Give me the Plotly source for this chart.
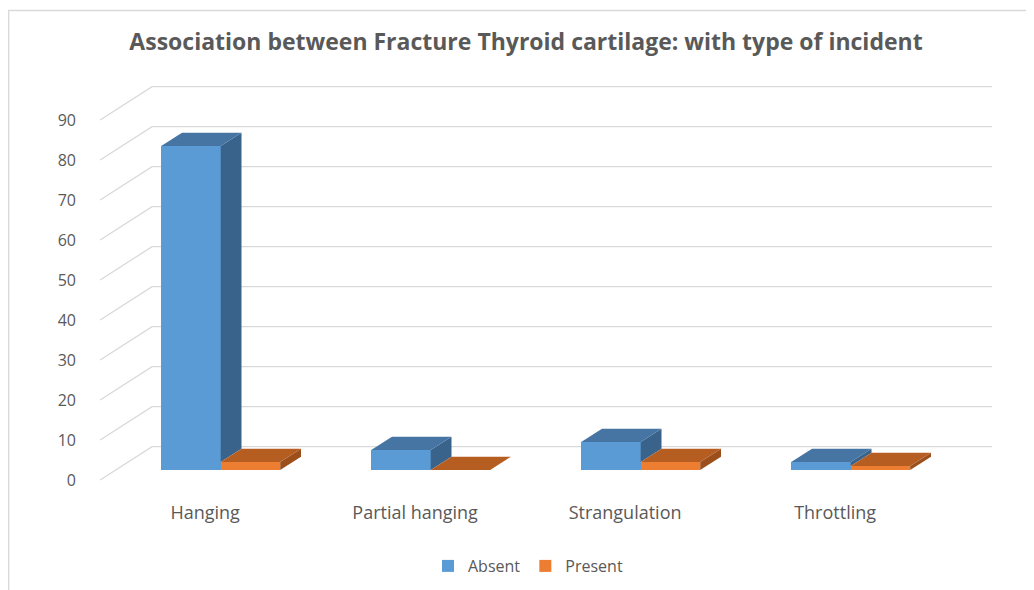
import plotly.graph_objects as go

# ---- data ----
categories = ["Hanging", "Partial hanging", "Strangulation", "Throttling"]
absent = [81, 5, 7, 2]
present = [2, 0, 2, 1]
series_names = ["Absent", "Present"]
y_ticks = [0, 10, 20, 30, 40, 50, 60, 70, 80, 90]

# ---- styling / pseudo-3D geometry (axis units) ----
front_cols = ["#5B9BD5", "#ED7D31"]
top_cols = ["#4674A3", "#B65E21"]
side_cols = ["#3A638B", "#9C4F1B"]
grid_col = "#D9D9D9"
text_col = "#595959"
FONT = "Open Sans"

W = 0.2833            # bar width (category units)
DX, DY = 0.2476, 8.33  # full floor depth vector (x units, value units)
D0, BD = 0.30, 0.40    # bar depth start and bar depth thickness (fractions)

# page has 8px body margin -> figure is 1026x582 placed at (8,8)
FW, FH = 1026, 582
L = 77                 # left margin (px)
PB = 489               # plot-area bottom (px from top)
Y0 = 472               # pixel of value 0 on the front plane
X0 = 197.1             # pixel of first category on the front plane
UX = 210               # px per category
UY = 4                 # px per value unit

fig = go.Figure()
series = [absent, present]
n = len(categories)

for s, vals in enumerate(series):
    xs, bases = [], []
    for i, v in enumerate(vals):
        xl = i - W + s * W + D0 * DX
        xs.append(xl + W / 2)
        bases.append(D0 * DY)
    fig.add_trace(go.Bar(
        x=xs, y=vals, base=bases, width=[W] * n, name=series_names[s],
        marker=dict(color=front_cols[s], line=dict(width=0)),
        hoverinfo="skip", showlegend=True))

for i in range(n):
    for s, vals in enumerate(series):
        v = vals[i]
        xl = i - W + s * W + D0 * DX
        xr = xl + W
        yb = D0 * DY
        yt = yb + v
        nxt = series[s + 1][i] if s + 1 < len(series) else 0
        ylow = yb + nxt
        # side face
        fig.add_trace(go.Scatter(
            x=[xr, xr, xr + BD * DX, xr + BD * DX, xr],
            y=[ylow, yt, yt + BD * DY, ylow + BD * DY, ylow],
            mode="lines", fill="toself", fillcolor=side_cols[s],
            line=dict(width=0, color=side_cols[s]),
            hoverinfo="skip", showlegend=False))
        # top face
        fig.add_trace(go.Scatter(
            x=[xl, xr, xr + BD * DX, xl + BD * DX, xl],
            y=[yt, yt, yt + BD * DY, yt + BD * DY, yt],
            mode="lines", fill="toself", fillcolor=top_cols[s],
            line=dict(width=0, color=top_cols[s]),
            hoverinfo="skip", showlegend=False))

# gridlines on side + back wall (from tick values)
shapes = []
x_front_l = -0.5
x_front_r = n - 0.5
for t in y_ticks:
    path = (f"M {x_front_l},{t} L {x_front_l + DX},{t + DY} "
            f"L {x_front_r + DX},{t + DY}")
    shapes.append(dict(type="path", xref="x", yref="y", path=path,
                       line=dict(color=grid_col, width=1.3), layer="below"))

# chart border (left + top)
pw = FW - L
bx = (0.7 - L) / pw
by = (PB - 2.5) / PB
shapes.append(dict(type="path", xref="paper", yref="paper",
                   path=f"M {bx},-0.3 L {bx},{by} L 1.01,{by}",
                   line=dict(color=grid_col, width=1.3), layer="below"))

fig.update_layout(
    width=FW, height=FH,
    margin=dict(l=L, r=0, t=0, b=FH - PB),
    paper_bgcolor="white", plot_bgcolor="white",
    font=dict(family=FONT, color=text_col, size=16),
    title=dict(text="Association between Fracture Thyroid cartilage: with type of incident",
               x=518 / FW, xref="container", xanchor="center",
               y=1 - 34 / FH, yref="container", yanchor="middle",
               font=dict(family=FONT, size=23, color=text_col, weight="bold")),
    showlegend=True,
    legend=dict(orientation="h", xref="container", yref="container",
                x=520 / FW, y=1 - 558 / FH, xanchor="center", yanchor="middle",
                font=dict(family=FONT, size=16, color=text_col),
                itemwidth=30, traceorder="normal"),
    shapes=shapes,
    bargap=0,
)
fig.update_xaxes(range=[(L - X0) / UX, (FW - X0) / UX],
                 tickvals=list(range(n)), ticktext=categories,
                 tickfont=dict(size=18),
                 showgrid=False, zeroline=False, showline=False, ticks="",
                 ticklabelstandoff=3, fixedrange=True)
fig.update_yaxes(range=[-(PB - Y0) / UY, Y0 / UY],
                 tickvals=y_ticks, showgrid=False, zeroline=False,
                 showline=False, ticks="", ticklabelstandoff=8, fixedrange=True)

fig.write_html("out.html")
